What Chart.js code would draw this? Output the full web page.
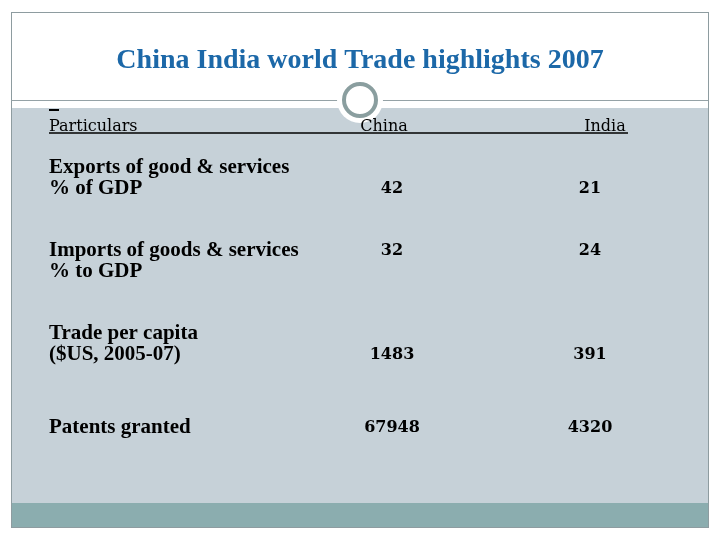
<!DOCTYPE html>
<html>
<head>
<meta charset="utf-8">
<script src="https://cdn.jsdelivr.net/npm/chart.js@4.4.0/dist/chart.umd.min.js"></script>
<style>
html, body { margin: 0; padding: 0; background: #fff; }
canvas { display: block; }
</style>
</head>
<body>
<canvas id="trade-chart" width="720" height="540"></canvas>
<script>
var titleText = 'China India world Trade highlights 2007';
var headers = ['Particulars', 'China', 'India'];
var countries = ['China', 'India'];
var rowLabels = [
    ['Exports of good & services', '% of GDP'],
    ['Imports of goods & services', '% to GDP'],
    ['Trade per capita', '($US, 2005-07)'],
    ['Patents granted']
];
var chinaValues = [42, 32, 1483, 67948];
var indiaValues = [21, 24, 391, 4320];

// which line of the row label each value lines up with
var valueLine = [1, 0, 1, 0];
var headerShift = [-8, 15];
var labelLineHeight = 21;

function cells(country, values) {
    return values.map(function (v, i) {
        return { x: country, y: i, v: v };
    });
}

var slidePlugin = {
    id: 'slide',
    beforeDraw: function (chart) {
        var ctx = chart.ctx;
        ctx.save();
        ctx.fillStyle = '#fff';
        ctx.fillRect(0, 0, 720, 540);
        // body and bottom band
        ctx.fillStyle = '#c6d1d8';
        ctx.fillRect(11, 108, 697, 395);
        ctx.fillStyle = '#8badaf';
        ctx.fillRect(11, 503, 697, 25);
        // frame
        ctx.strokeStyle = '#8e9ca0';
        ctx.lineWidth = 1;
        ctx.strokeRect(11.5, 12.5, 697, 515);
        // rule under the title
        ctx.strokeStyle = '#95a2a6';
        ctx.beginPath();
        ctx.moveTo(11, 100.5);
        ctx.lineTo(708, 100.5);
        ctx.stroke();
        // ring
        ctx.fillStyle = '#fff';
        ctx.beginPath();
        ctx.arc(360, 100, 23, 0, Math.PI * 2);
        ctx.fill();
        ctx.strokeStyle = '#8a9e9f';
        ctx.lineWidth = 4;
        ctx.beginPath();
        ctx.arc(360, 100, 16, 0, Math.PI * 2);
        ctx.stroke();
        // title
        ctx.fillStyle = '#1c68a8';
        ctx.font = 'bold 28px "Liberation Serif"';
        ctx.textAlign = 'center';
        ctx.textBaseline = 'alphabetic';
        ctx.fillText(titleText, 360, 68);
        ctx.restore();
    },
    afterDatasetsDraw: function (chart) {
        var ctx = chart.ctx;
        var x = chart.scales.x;
        var y = chart.scales.y;
        ctx.save();
        // header row
        ctx.fillStyle = '#000';
        ctx.font = '16px "DejaVu Serif"';
        ctx.textBaseline = 'alphabetic';
        ctx.textAlign = 'left';
        ctx.fillText(headers[0], y.left, 131);
        ctx.textAlign = 'center';
        countries.forEach(function (c, i) {
            ctx.fillText(headers[i + 1], x.getPixelForValue(i) + headerShift[i], 131);
        });
        ctx.strokeStyle = '#000';
        ctx.lineWidth = 1.5;
        ctx.beginPath();
        ctx.moveTo(y.left, 133);
        ctx.lineTo(628, 133);
        ctx.stroke();
        ctx.lineWidth = 2;
        ctx.beginPath();
        ctx.moveTo(y.left, 110);
        ctx.lineTo(y.left + 10, 110);
        ctx.stroke();
        // cell values
        ctx.font = 'bold 16px "DejaVu Serif"';
        ctx.textBaseline = 'middle';
        chart.data.datasets.forEach(function (ds, di) {
            var meta = chart.getDatasetMeta(di);
            meta.data.forEach(function (pt, i) {
                var n = rowLabels[i].length;
                var shift = (valueLine[i] - (n - 1) / 2) * labelLineHeight;
                ctx.fillText(String(ds.data[i].v), pt.x, pt.y + shift);
            });
        });
        ctx.restore();
    }
};

var ctx = document.getElementById('trade-chart').getContext('2d');
var chart = new Chart(ctx, {
    type: 'scatter',
    data: {
        datasets: [{
            label: countries[0],
            data: cells(countries[0], chinaValues),
            pointRadius: 0
        }, {
            label: countries[1],
            data: cells(countries[1], indiaValues),
            pointRadius: 0
        }]
    },
    options: {
        responsive: false,
        animation: false,
        layout: {
            padding: { left: 49, right: 130, top: 137, bottom: 71 }
        },
        plugins: {
            legend: { display: false },
            tooltip: { enabled: false }
        },
        scales: {
            x: {
                type: 'category',
                labels: countries,
                offset: false,
                display: false
            },
            y: {
                type: 'linear',
                min: -0.5,
                max: 3.5,
                reverse: true,
                grid: { display: false },
                border: { display: false },
                afterBuildTicks: function (scale) {
                    scale.ticks = rowLabels.map(function (l, i) { return { value: i }; });
                },
                afterFit: function (scale) {
                    scale.width = 343;
                },
                ticks: {
                    crossAlign: 'far',
                    color: '#000',
                    font: { family: '"Liberation Serif"', size: 21, weight: 'bold', lineHeight: 1 },
                    callback: function (v) { return rowLabels[v]; }
                }
            }
        }
    },
    plugins: [slidePlugin]
});
</script>
</body>
</html>
